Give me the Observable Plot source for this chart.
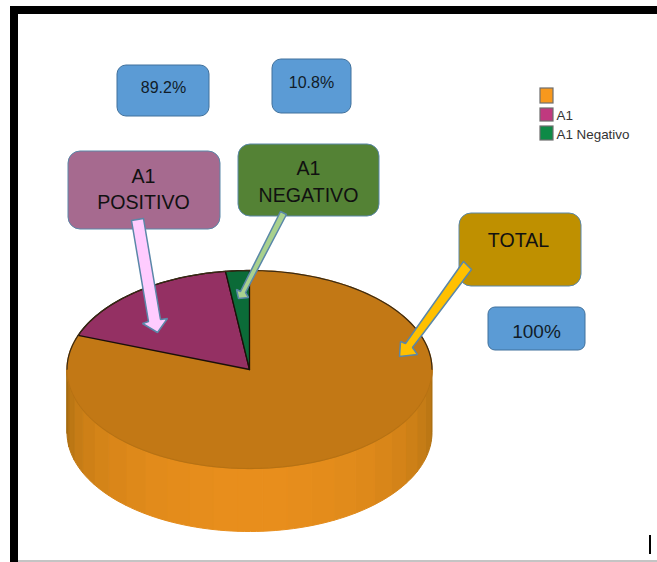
<!DOCTYPE html>
<html>
<head>
<meta charset="utf-8">
<script src="https://cdn.jsdelivr.net/npm/d3@7"></script>
<script src="https://cdn.jsdelivr.net/npm/@observablehq/plot@0.6"></script>
<style>
  html, body { margin: 0; padding: 0; background: #fff; overflow: hidden; }
  svg { display: block; }
</style>
</head>
<body>
<div id="chart"></div>
<script>
// Values
const sliceNames = ["Total", "A1", "A1 Negativo"];
const a1GroupShare = 19.4;           // part of the disc held by the A1 group
const a1Split = [89.2, 10.8];        // positive / negative within that group
const totalPercent = 100;
const sliceShares = [
  100 - a1GroupShare,
  a1GroupShare * a1Split[0] / 100,
  a1GroupShare * a1Split[1] / 100
];
const legendLabels = ["", "A1", "A1 Negativo"];

// Drawing constants
const W = 657, H = 562;
const disc = {cx: 249, cy: 369, rx: 182.5, ry: 99, depth: 63};
const topColors = ["#c27815", "#943063", "#0b6b38"];
const legendColors = ["#f7981d", "#c0397f", "#0e8a46"];
const rad = (deg) => deg * Math.PI / 180;
const rimX = (deg) => disc.cx + disc.rx * Math.sin(rad(deg));
const rimY = (deg, drop = 0) => disc.cy - disc.ry * Math.cos(rad(deg)) + drop;

// Top-face wedges, clockwise from twelve o'clock
let start = 0;
const wedges = sliceShares.flatMap((share, i) => {
  const end = start + share * 3.6;
  const pts = [{slice: sliceNames[i], c: topColors[i], x: disc.cx, y: disc.cy}];
  const steps = Math.max(4, Math.ceil(end - start));
  for (let k = 0; k <= steps; k++) {
    const a = start + (end - start) * k / steps;
    pts.push({slice: sliceNames[i], c: topColors[i], x: rimX(a), y: rimY(a)});
  }
  pts.push({slice: sliceNames[i], c: topColors[i], x: disc.cx, y: disc.cy});
  start = end;
  return pts;
});

// Faceted side wall: shaded strips running from the right rim round to the left
const stripStep = 7.8;
const shade = d3.interpolateRgb("#a0680f", "#e88e1c");
const strips = [];
for (let a = 90, n = 0; a < 270; a += stripStep, n++) {
  const b = Math.min(270, a + stripStep);
  const mid = (a + b) / 2;
  const c = shade(Math.pow(Math.sin(rad(mid - 90)), 0.6));
  const ring = [];
  for (let k = 0; k <= 4; k++) {
    const t = a + (b - a) * k / 4;
    ring.push({x: rimX(t), y: rimY(t)});
  }
  for (let k = 4; k >= 0; k--) {
    const t = a + (b - a) * k / 4;
    ring.push({x: rimX(t), y: rimY(t, disc.depth)});
  }
  ring.push(ring[0]);
  ring.forEach((p) => strips.push({...p, strip: n, c}));
}

const arc = (from, to, drop = 0) =>
  d3.range(from, to + 1, 2).map((a) => ({x: rimX(a), y: rimY(a, drop)}));

// Callout boxes
const boxes = [
  {x1: 117, x2: 209, y1: 65, y2: 116, fill: "#5b9bd5", r: 9},
  {x1: 272, x2: 351, y1: 59, y2: 113, fill: "#5b9bd5", r: 9},
  {x1: 68, x2: 220, y1: 151, y2: 229, fill: "#a66a8f", r: 12},
  {x1: 238, x2: 379, y1: 144, y2: 216, fill: "#548235", r: 12},
  {x1: 459, x2: 581, y1: 213, y2: 286, fill: "#bf9000", r: 12},
  {x1: 488, x2: 585, y1: 307, y2: 350, fill: "#5b9bd5", r: 7}
];

const percentLabels = [
  {t: a1Split[0] + "%", x: 163, y: 87, s: 16},
  {t: a1Split[1] + "%", x: 311, y: 82, s: 16},
  {t: totalPercent + "%", x: 536, y: 331, s: 19}
];
const calloutLabels = [
  {t: "A1", x: 143, y: 176},
  {t: "POSITIVO", x: 143, y: 202},
  {t: "A1", x: 308, y: 168},
  {t: "NEGATIVO", x: 308, y: 195},
  {t: "TOTAL", x: 518, y: 240}
];

// Block arrows from the callouts to their slices
const arrows = [
  {id: "pos", c: "#ffccff", pts: [[131, 220], [143, 218], [160, 319], [167, 318], [157, 332], [142, 323], [148, 321]]},
  {id: "neg", c: "#a9d18e", pts: [[280, 211], [286, 214], [245, 292], [248, 297], [238, 298], [236, 289], [240, 291]]},
  {id: "tot", c: "#ffc000", pts: [[463, 261], [471, 269], [412, 347], [417, 354], [399, 356], [400, 341], [405, 343]]}
].flatMap((d) => [...d.pts, d.pts[0]].map(([x, y]) => ({id: d.id, c: d.c, x, y})));

// Legend rows
const legendRows = legendLabels.map((label, i) => ({
  label,
  c: legendColors[i],
  y1: [88, 108, 126][i],
  y2: [103, 121, 140][i],
  ty: [95, 115, 134][i]
}));

const chart = Plot.plot({
  width: W,
  height: H,
  margin: 0,
  style: {background: "#fff"},
  x: {domain: [0, W], range: [0, W], axis: null},
  y: {domain: [0, H], range: [0, H], axis: null},
  color: {type: "identity"},
  marks: [
    // Page frame
    Plot.rect([{x1: 10, x2: W, y1: 6, y2: 14}, {x1: 10, x2: 18, y1: 6, y2: H}, {x1: 649, x2: 651, y1: 535, y2: 554}],
      {x1: "x1", x2: "x2", y1: "y1", y2: "y2", fill: "#000"}),
    Plot.rect([{x1: 18, x2: W, y1: 560, y2: H}], {x1: "x1", x2: "x2", y1: "y1", y2: "y2", fill: "#c4c4c4"}),

    // Disc side wall
    Plot.line(strips, {x: "x", y: "y", z: "strip", fill: "c", stroke: "c", strokeWidth: 1, curve: "linear", strokeLinejoin: "round"}),

    // Disc top
    Plot.line(wedges, {x: "x", y: "y", z: "slice", fill: "c", stroke: (d) => d.slice === sliceNames[0] ? d.c : "#1a1008", strokeWidth: 1.3, curve: "linear"}),
    Plot.line(arc(270, 450), {x: "x", y: "y", stroke: "#3a2a14", strokeWidth: 1.2}),
    Plot.line(arc(90, 270), {x: "x", y: "y", stroke: "#b06f12", strokeWidth: 0.7}),

    // Callouts
    Plot.rect(boxes.slice(0, 2), {x1: "x1", x2: "x2", y1: "y1", y2: "y2", fill: "fill", stroke: "#41719c", strokeWidth: 1, rx: 9, ry: 9}),
    Plot.rect(boxes.slice(2, 5), {x1: "x1", x2: "x2", y1: "y1", y2: "y2", fill: "fill", stroke: "#5a87a8", strokeWidth: 1, rx: 12, ry: 12}),
    Plot.rect(boxes.slice(5), {x1: "x1", x2: "x2", y1: "y1", y2: "y2", fill: "fill", stroke: "#41719c", strokeWidth: 1, rx: 7, ry: 7}),
    Plot.line(arrows, {x: "x", y: "y", z: "id", fill: "c", stroke: "#5a87a8", strokeWidth: 1.5, curve: "linear", strokeLinejoin: "miter"}),
    Plot.text(percentLabels, {x: "x", y: "y", text: "t", fontSize: "s", fontFamily: "Liberation Sans", fill: "#111c28"}),
    Plot.text(calloutLabels, {x: "x", y: "y", text: "t", fontSize: 19.6, fontFamily: "Liberation Sans", fill: "#111"}),

    // Legend
    Plot.rect(legendRows, {x1: 540, x2: 553, y1: "y1", y2: "y2", fill: "c", stroke: "#6e6e6e", strokeWidth: 1.2}),
    Plot.text(legendRows, {x: 556, y: "ty", text: "label", textAnchor: "start", fontSize: 13.4, fontFamily: "Liberation Sans", fill: "#333"})
  ]
});
document.getElementById("chart").appendChild(chart);
</script>
</body>
</html>
